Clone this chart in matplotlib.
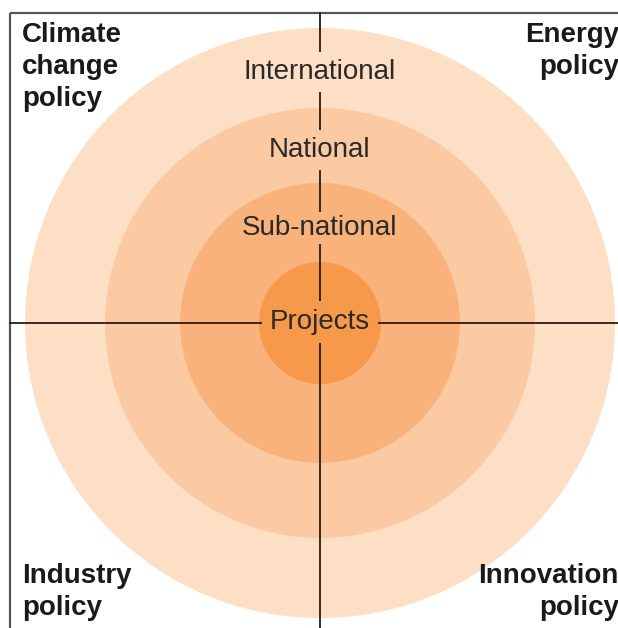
import matplotlib.pyplot as plt
from matplotlib.patches import Circle

plt.rcParams['font.family'] = ['Liberation Sans', 'DejaVu Sans']

# data
levels = ['International', 'National', 'Sub-national', 'Projects']
corner_labels = ['Climate\nchange\npolicy', 'Energy\npolicy',
                 'Industry\npolicy', 'Innovation\npolicy']

# layout (pixels, y down)
W, H = 618, 628
CX, CY = 320, 323
radii = [295, 215, 140, 61]
ring_colors = ['#fddfc6', '#fbc9a2', '#f9b27c', '#f6994b']
label_y = [72, 150, 228, 322]
INK = '#2a2a2a'
LINE = '#2b1a10'

fig = plt.figure(figsize=(W / 100, H / 100), dpi=100)
ax = fig.add_axes([0, 0, 1, 1])
ax.set_xlim(0, W)
ax.set_ylim(H, 0)
ax.set_aspect('equal')
ax.axis('off')

# rings
for r, c in zip(radii, ring_colors):
    ax.add_patch(Circle((CX, CY), r, facecolor=c, edgecolor='none', zorder=1))

# frame (top and left only, rest cropped)
ax.plot([10, W], [13, 13], color='#555555', lw=1.6, zorder=2, solid_capstyle='butt')
ax.plot([10, 10], [13, H], color='#555555', lw=1.6, zorder=2, solid_capstyle='butt')

# cross
ax.plot([CX, CX], [13, H], color=LINE, lw=1.3, zorder=2)
ax.plot([10, W], [CY, CY], color=LINE, lw=1.3, zorder=2)

# level labels
pads = [0.25, 0.25, 0.12, 0.3]
for name, y, c, p in zip(levels, label_y, ring_colors, pads):
    ax.text(CX, y, name, ha='center', va='center', fontsize=20, color=INK, zorder=4,
            bbox=dict(boxstyle='square,pad=%s' % p, facecolor=c, edgecolor='none'))

# corner labels
kw = dict(fontsize=20, fontweight='bold', color='#1a1a1a', linespacing=1.3, zorder=5)
ax.text(22, 22, corner_labels[0], ha='left', va='top', **kw)
ax.text(619, 22, corner_labels[1], ha='right', va='top', multialignment='right', **kw)
ax.text(22, 563, corner_labels[2], ha='left', va='top', **kw)
ax.text(619, 563, corner_labels[3], ha='right', va='top', multialignment='right', **kw)

plt.savefig('out.png', dpi=100, facecolor='white')
plt.close()
